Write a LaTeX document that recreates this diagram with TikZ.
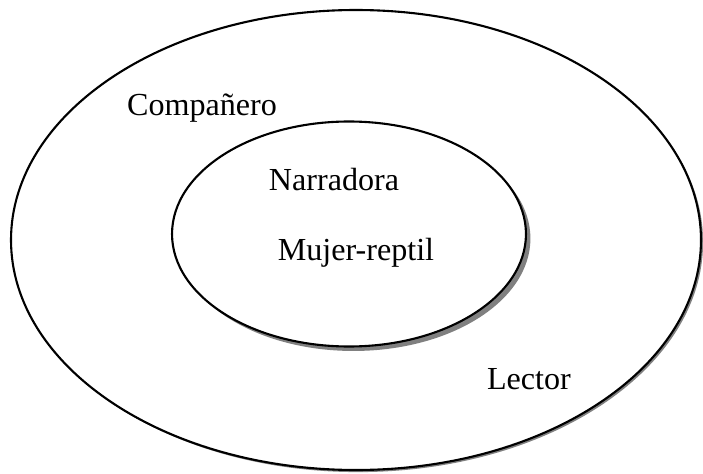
\documentclass[tikz,border=0pt]{standalone}
\usepackage{fontspec}
\setmainfont{Liberation Serif}
\usetikzlibrary{shapes.geometric,shadows}
\tikzset{
    every node/.style={align=center,},
    ring/.style={draw,ellipse,fill=white,inner sep=0pt,line width=0.8pt,},
    word/.style={anchor=base,inner sep=0pt,font=\fontsize{12.2}{14}\selectfont,},
}

\begin{document}
\begin{tikzpicture}[x=0.38pt,y=-0.38pt]
                \useasboundingbox (0,0) rectangle (703,474);

                \node[ring,minimum width=262.2pt,minimum height=174.8pt,
                      drop shadow={shadow xshift=0.8pt,shadow yshift=-0.8pt,fill=black!50,opacity=1}] (outer) at (356,240) {};
                \node[ring,minimum width=134.5pt,minimum height=85.5pt,
                      drop shadow={shadow xshift=1.7pt,shadow yshift=-1.7pt,fill=black!50,opacity=1}] (inner) at (349,234) {};

                \node[word] (companero) at (202,115) {Compañero};
                \node[word] (narradora) at (334,190) {Narradora};
                \node[word] (mujer) at (356,260) {Mujer-reptil};
                \node[word] (lector) at (529,389) {Lector};
            \end{tikzpicture}
\end{document}
